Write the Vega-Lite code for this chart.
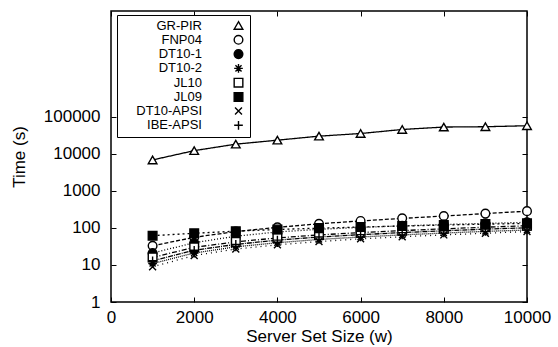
{
  "$schema": "https://vega.github.io/schema/vega-lite/v6.json",
  "width": 416,
  "height": 291,
  "autosize": {"type": "none"},
  "padding": {"left": 111, "top": 11, "right": 31, "bottom": 45},
  "config": {
    "font": "Liberation Sans",
    "view": {"stroke": "black", "strokeWidth": 1.5},
    "axis": {"labelFont": "Liberation Sans", "titleFont": "Liberation Sans", "labelFontSize": 17, "titleFontSize": 17, "titleFontWeight": "normal", "labelColor": "black", "titleColor": "black", "domain": false, "grid": false, "tickColor": "black", "tickSize": -5, "tickWidth": 1, "labelFlush": false}
  },
  "data": {"values": [
    {"x": 1000, "t": 6900, "s": "GR-PIR"}, {"x": 2000, "t": 12300, "s": "GR-PIR"}, {"x": 3000, "t": 18400, "s": "GR-PIR"}, {"x": 4000, "t": 23600, "s": "GR-PIR"}, {"x": 5000, "t": 30300, "s": "GR-PIR"}, {"x": 6000, "t": 35700, "s": "GR-PIR"}, {"x": 7000, "t": 45900, "s": "GR-PIR"}, {"x": 8000, "t": 53400, "s": "GR-PIR"}, {"x": 9000, "t": 54500, "s": "GR-PIR"}, {"x": 10000, "t": 57900, "s": "GR-PIR"},
    {"x": 1000, "t": 33, "s": "FNP04"}, {"x": 2000, "t": 56, "s": "FNP04"}, {"x": 3000, "t": 80, "s": "FNP04"}, {"x": 4000, "t": 104, "s": "FNP04"}, {"x": 5000, "t": 130, "s": "FNP04"}, {"x": 6000, "t": 155, "s": "FNP04"}, {"x": 7000, "t": 182, "s": "FNP04"}, {"x": 8000, "t": 210, "s": "FNP04"}, {"x": 9000, "t": 245, "s": "FNP04"}, {"x": 10000, "t": 285, "s": "FNP04"},
    {"x": 1000, "t": 21, "s": "DT10-1"}, {"x": 2000, "t": 40, "s": "DT10-1"}, {"x": 3000, "t": 60, "s": "DT10-1"}, {"x": 4000, "t": 78, "s": "DT10-1"}, {"x": 5000, "t": 92, "s": "DT10-1"}, {"x": 6000, "t": 104, "s": "DT10-1"}, {"x": 7000, "t": 114, "s": "DT10-1"}, {"x": 8000, "t": 124, "s": "DT10-1"}, {"x": 9000, "t": 133, "s": "DT10-1"}, {"x": 10000, "t": 142, "s": "DT10-1"},
    {"x": 1000, "t": 11, "s": "DT10-2"}, {"x": 2000, "t": 21, "s": "DT10-2"}, {"x": 3000, "t": 31, "s": "DT10-2"}, {"x": 4000, "t": 40, "s": "DT10-2"}, {"x": 5000, "t": 49, "s": "DT10-2"}, {"x": 6000, "t": 57, "s": "DT10-2"}, {"x": 7000, "t": 65, "s": "DT10-2"}, {"x": 8000, "t": 73, "s": "DT10-2"}, {"x": 9000, "t": 81, "s": "DT10-2"}, {"x": 10000, "t": 88, "s": "DT10-2"},
    {"x": 1000, "t": 16, "s": "JL10"}, {"x": 2000, "t": 30, "s": "JL10"}, {"x": 3000, "t": 42, "s": "JL10"}, {"x": 4000, "t": 54, "s": "JL10"}, {"x": 5000, "t": 65, "s": "JL10"}, {"x": 6000, "t": 75, "s": "JL10"}, {"x": 7000, "t": 85, "s": "JL10"}, {"x": 8000, "t": 95, "s": "JL10"}, {"x": 9000, "t": 105, "s": "JL10"}, {"x": 10000, "t": 115, "s": "JL10"},
    {"x": 1000, "t": 62, "s": "JL09"}, {"x": 2000, "t": 72, "s": "JL09"}, {"x": 3000, "t": 82, "s": "JL09"}, {"x": 4000, "t": 91, "s": "JL09"}, {"x": 5000, "t": 99, "s": "JL09"}, {"x": 6000, "t": 106, "s": "JL09"}, {"x": 7000, "t": 113, "s": "JL09"}, {"x": 8000, "t": 120, "s": "JL09"}, {"x": 9000, "t": 127, "s": "JL09"}, {"x": 10000, "t": 133, "s": "JL09"},
    {"x": 1000, "t": 9, "s": "DT10-APSI"}, {"x": 2000, "t": 18, "s": "DT10-APSI"}, {"x": 3000, "t": 27, "s": "DT10-APSI"}, {"x": 4000, "t": 35, "s": "DT10-APSI"}, {"x": 5000, "t": 43, "s": "DT10-APSI"}, {"x": 6000, "t": 51, "s": "DT10-APSI"}, {"x": 7000, "t": 58, "s": "DT10-APSI"}, {"x": 8000, "t": 65, "s": "DT10-APSI"}, {"x": 9000, "t": 72, "s": "DT10-APSI"}, {"x": 10000, "t": 80, "s": "DT10-APSI"},
    {"x": 1000, "t": 13, "s": "IBE-APSI"}, {"x": 2000, "t": 25, "s": "IBE-APSI"}, {"x": 3000, "t": 36, "s": "IBE-APSI"}, {"x": 4000, "t": 47, "s": "IBE-APSI"}, {"x": 5000, "t": 57, "s": "IBE-APSI"}, {"x": 6000, "t": 66, "s": "IBE-APSI"}, {"x": 7000, "t": 75, "s": "IBE-APSI"}, {"x": 8000, "t": 84, "s": "IBE-APSI"}, {"x": 9000, "t": 93, "s": "IBE-APSI"}, {"x": 10000, "t": 101, "s": "IBE-APSI"}
  ]},
  "resolve": {"axis": {"x": "independent", "y": "independent"}},
  "layer": [
    {
      "mark": {"type": "line", "color": "black", "strokeWidth": 1.3},
      "encoding": {
        "x": {"field": "x", "type": "quantitative", "scale": {"domain": [0, 10000], "nice": false}, "axis": {"orient": "bottom", "values": [0, 2000, 4000, 6000, 8000, 10000], "title": "Server Set Size (w)", "labelPadding": 12, "titlePadding": 3, "format": "d"}},
        "y": {"field": "t", "type": "quantitative", "scale": {"type": "log", "domain": [1, 73000000], "nice": false}, "axis": {"orient": "left", "values": [1, 10, 100, 1000, 10000, 100000], "format": "d", "title": "Time (s)", "labelPadding": 16, "titlePadding": 15}},
        "strokeDash": {"field": "s", "type": "nominal", "legend": null, "scale": {
          "domain": ["IBE-APSI", "DT10-APSI", "JL09", "JL10", "DT10-2", "DT10-1", "FNP04", "GR-PIR"],
          "range": [[5, 1, 1, 1], [1, 4], [2, 3], [5, 2, 1, 2], [1, 1], [1, 2], [4, 2], [1, 0]]}}
      }
    },
    {
      "mark": {"type": "point", "filled": true, "strokeWidth": 1.4, "opacity": 1, "size": 75},
      "encoding": {
        "x": {"field": "x", "type": "quantitative", "axis": {"orient": "top", "values": [0, 2000, 4000, 6000, 8000, 10000], "labels": false, "title": null}},
        "y": {"field": "t", "type": "quantitative", "axis": {"orient": "right", "values": [1, 10, 100, 1000, 10000, 100000], "labels": false, "title": null}},
        "shape": {"field": "s", "type": "nominal", "scale": {
          "domain": ["GR-PIR", "FNP04", "DT10-1", "DT10-2", "JL10", "JL09", "DT10-APSI", "IBE-APSI"],
          "range": ["triangle-up", "circle", "circle", "M-1,0L1,0M0,-1L0,1M-0.7,-0.7L0.7,0.7M-0.7,0.7L0.7,-0.7", "square", "square", "M-0.8,-0.8L0.8,0.8M-0.8,0.8L0.8,-0.8", "M-1,0L1,0M0,-1L0,1"]},
          "legend": {"title": null, "orient": "none", "legendX": 6, "legendY": 4, "fillColor": "white", "strokeColor": "black", "padding": 4, "labelFontSize": 13, "labelFont": "Liberation Sans", "labelColor": "black", "labelAlign": "right", "labelOffset": -43, "symbolOffset": 111, "symbolSize": 75, "symbolStrokeWidth": 1.4, "rowPadding": -0.7, "cornerRadius": 0}},
        "fill": {"field": "s", "type": "nominal", "scale": {
          "domain": ["GR-PIR", "FNP04", "DT10-1", "DT10-2", "JL10", "JL09", "DT10-APSI", "IBE-APSI"],
          "range": ["white", "white", "black", "white", "white", "black", "white", "white"]},
          "legend": {"title": null, "orient": "none", "legendX": 6, "legendY": 4}},
        "stroke": {"field": "s", "type": "nominal", "scale": {
          "domain": ["GR-PIR", "FNP04", "DT10-1", "DT10-2", "JL10", "JL09", "DT10-APSI", "IBE-APSI"],
          "range": ["black", "black", "black", "black", "black", "black", "black", "black"]},
          "legend": {"title": null, "orient": "none", "legendX": 6, "legendY": 4}}
      }
    }
  ]
}
